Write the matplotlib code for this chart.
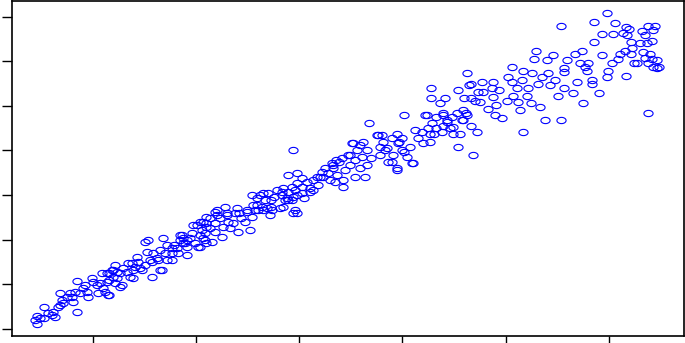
import matplotlib
matplotlib.use("Agg")
import matplotlib.pyplot as plt
import numpy as np
from matplotlib.path import Path

# values (tick units, no labels shown on the original)
x_vals = [
    -0.54, -0.56, -0.54, -0.51, -0.47, -0.47, -0.44, -0.40, -0.39, -0.37,
    -0.34, -0.32, -0.30, -0.29, -0.32, -0.25, -0.22, -0.19, -0.20, -0.15,
    -0.15, -0.17, -0.13, -0.10, -0.06, -0.05, -0.08, -0.01, 0.00, 0.04,
    0.05, 0.09, 0.07, 0.14, 0.15, 0.10, 0.16, 0.18, 0.21, 0.23, 0.21,
    0.16, 0.23, 0.19, 0.28, 0.26, 0.29, 0.33, 0.34, 0.36, 0.39,
    0.41, 0.44, 0.43, 0.46, 0.48, 0.50, 0.52, 0.53, 0.50, 0.55,
    0.57, 0.58, 0.62, 0.65, 0.65, 0.68, 0.70, 0.72, 0.77, 0.77,
    0.79, 0.82, 0.84, 0.86, 0.87, 0.91, 0.91, 0.94, 0.96, 0.97,
    0.99, 1.02, 1.04, 1.06, 1.07, 1.09, 1.10, 1.10,
    1.04, 1.07, 1.09, 1.10, 1.13, 1.13, 1.15, 1.18, 1.18, 1.20,
    1.23, 1.25, 1.26, 1.28, 1.30, 1.31, 1.33, 1.36, 1.38, 1.40,
    1.41, 1.44, 1.47, 1.49, 1.52, 1.54, 1.55, 1.59, 1.60, 1.62,
    1.64, 1.67, 1.69, 1.70, 1.72, 1.73, 1.76, 1.78, 1.81, 1.83,
    1.84, 1.86, 1.89, 1.89, 1.93, 1.94, 1.96, 1.98, 1.98,
    1.94, 1.93, 1.96, 1.98, 1.98, 2.03, 2.03, 2.03, 2.05, 2.08,
    2.10, 2.13, 2.17, 2.18, 2.22, 2.23, 2.25, 2.28, 2.30, 2.32,
    2.33, 2.35, 2.36, 2.37, 2.41, 2.42, 2.42, 2.44, 2.47, 2.49,
    2.51, 2.54, 2.54, 2.56, 2.59, 2.59, 2.61, 2.62, 2.64, 2.66,
    2.66, 2.68, 2.70, 2.76, 2.78, 2.78, 2.81, 2.85, 2.86,
    2.80, 2.83, 2.90, 2.91, 2.95, 2.95, 2.90, 2.97, 3.00, 3.02,
    3.04, 3.07, 3.10, 3.12, 3.02, 3.15, 3.19, 3.20, 3.24, 3.25,
    3.27, 3.28, 3.28, 3.29, 3.31, 3.33, 3.36, 3.38, 3.39, 3.41,
    3.43, 3.46, 3.48, 3.49, 3.53, 3.54, 3.54, 3.58, 3.59, 3.60,
    3.63, 3.63, 3.65, 3.67, 3.68, 3.70, 3.72, 3.73,
    3.67, 3.67, 3.75, 3.77, 3.78, 3.83, 3.87, 3.88, 3.88, 3.90,
    3.91, 3.94, 3.97, 4.01, 4.02, 4.06, 4.06, 4.07, 4.11, 4.12,
    4.14, 4.16, 4.17, 4.17, 4.21, 4.22, 4.25, 4.26, 4.28, 4.30,
    4.31, 4.33, 4.35, 4.38, 4.40, 4.41, 4.43, 4.46, 4.48, 4.51,
    4.54, 4.54, 4.57, 4.60,
    4.57, 4.57, 4.65, 4.67, 4.69, 4.72, 4.74, 4.75, 4.77, 4.79,
    4.80, 4.84, 4.84, 4.86, 4.86, 4.91, 4.94, 4.94, 4.98, 4.98,
    4.99, 5.03, 5.04, 5.06, 5.09, 5.11, 5.14, 5.16, 5.17, 5.17,
    5.18, 5.20, 5.22, 5.22, 5.23, 5.25, 5.27, 5.30, 5.32, 5.33,
    5.35, 5.35, 5.37, 5.38, 5.38, 5.40, 5.42, 5.42, 5.43, 5.43,
    5.45, 5.47, 5.47, 5.49, 5.38,
    # denser parts of the band
    0.84, 0.87, 0.91, 0.89, 1.01, 1.04, 1.10, 1.18, 1.20, 1.30,
    1.42, 1.49, 1.54, 1.59, 1.65, 1.73, 1.83, 1.88, 1.94, 0.67,
    0.38, 0.19, 0.14, 0.16, 0.26, 0.39, 0.12, 0.57, 0.63, 0.72,
    0.77, 0.81,
    2.75, 2.96, 3.00, 3.09, 2.95, 2.52, 2.49, 2.39, 2.33, 2.20,
    2.13, 2.10, 1.89, 1.84, 1.74, 1.65, 1.57, 3.27, 3.33, 3.39,
    3.43, 3.49, 3.56, 3.59, 3.62, 3.22, 3.39,
]
y_vals = [
    0.29, 0.20, 0.11, 0.25, 0.25, 0.49, 0.36, 0.31, 0.38, 0.27,
    0.49, 0.54, 0.65, 0.58, 0.81, 0.72, 0.81, 0.60, 0.72, 0.38,
    1.07, 0.83, 0.81, 0.92, 0.83, 0.72, 0.98, 1.14, 1.05, 0.98,
    0.81, 1.25, 1.03, 1.05, 0.76, 0.92, 1.25, 1.32, 1.43, 1.14, 1.03,
    0.76, 1.28, 1.16, 0.98, 1.25, 1.36, 1.28, 1.48, 1.16, 1.32,
    1.39, 1.50, 1.61, 1.36, 1.32, 1.43, 1.72, 1.99, 1.95, 1.54,
    1.16, 1.70, 1.59, 1.77, 1.32, 2.04, 1.70, 1.88, 1.54, 1.81,
    1.88, 1.70, 1.99, 2.10, 1.92, 1.83, 1.66, 2.04, 2.15, 2.33,
    1.92, 1.83, 2.10, 2.21, 2.39, 1.99, 2.28, 2.51,
    1.83, 2.04, 2.15, 1.92, 2.26, 2.48, 1.95, 2.17, 2.37, 2.66,
    2.48, 2.06, 2.28, 2.73, 2.55, 2.39, 2.26, 2.37, 2.59, 2.71,
    2.17, 2.48, 2.39, 2.66, 2.21, 2.51, 2.77, 2.93, 2.66, 3.00,
    2.73, 2.89, 2.71, 3.04, 2.55, 2.89, 2.95, 3.11, 2.71, 3.00,
    3.15, 2.89, 3.44, 3.06, 3.18, 2.95, 2.66, 3.49, 3.27,
    4.00, 2.89, 3.11, 3.00, 2.59, 3.18, 3.38, 3.04, 2.93, 3.29,
    3.06, 3.11, 3.40, 3.22, 3.51, 3.40, 3.60, 3.49, 3.33, 3.71,
    3.60, 3.29, 3.78, 3.44, 3.83, 3.33, 3.18, 3.56, 3.89, 3.67,
    4.16, 3.40, 3.78, 4.00, 4.12, 3.60, 3.85, 4.18, 3.40, 3.67,
    4.00, 4.61, 3.83, 4.34, 4.07, 3.89, 4.18, 4.05, 3.74,
    4.34, 4.00, 4.27, 3.89, 4.38, 3.60, 3.74, 4.18, 4.29, 3.96,
    3.85, 4.07, 3.71, 4.45, 4.79, 4.29, 4.41, 4.16, 4.79, 4.50,
    4.18, 5.41, 5.17, 4.61, 4.38, 4.74, 5.06, 4.41, 4.83, 5.17,
    4.63, 4.50, 4.74, 4.38, 4.83, 4.07, 5.35, 4.68, 4.90, 5.17,
    4.79, 5.73, 5.46, 4.56, 3.89, 5.12, 4.41, 5.30,
    5.50, 5.17, 5.08, 5.53, 5.30, 4.94, 5.39, 5.19, 5.53, 4.79,
    5.01, 5.35, 4.72, 5.12, 5.64, 5.86, 5.53, 5.23, 5.39, 5.08,
    4.90, 5.57, 5.79, 4.41, 5.23, 5.39, 5.06, 5.73, 6.06, 6.24,
    5.50, 4.97, 5.64, 4.68, 6.02, 5.73, 5.46, 6.13, 5.57, 5.23,
    4.68, 6.80, 5.39, 6.02,
    5.84, 5.75, 5.28, 6.17, 5.53, 5.95, 6.24, 5.06, 5.86, 5.79,
    5.97, 5.57, 5.50, 6.42, 6.89, 5.28, 6.13, 6.62, 5.64, 7.07,
    5.79, 5.97, 6.62, 6.85, 6.06, 6.17, 6.64, 6.24, 5.68, 6.76,
    6.58, 6.73, 6.17, 6.42, 6.29, 5.97, 5.95, 6.40, 6.67, 6.20,
    6.08, 6.58, 6.40, 6.80, 5.95, 6.17, 6.06, 6.46, 6.69, 5.86,
    6.80, 6.02, 5.84, 5.86, 4.85,
    # denser parts of the band
    2.10, 2.04, 1.99, 1.92, 2.33, 2.39, 2.37, 2.62, 2.55, 2.59,
    2.59, 2.62, 3.00, 2.77, 3.04, 2.73, 3.06, 2.93, 2.59, 1.32,
    1.48, 1.32, 1.25, 1.10, 0.94, 1.14, 0.83, 1.50, 1.54, 1.54,
    1.70, 1.81,
    4.34, 4.16, 4.00, 3.71, 3.56, 4.16, 3.89, 3.74, 3.67, 3.40,
    3.33, 3.15, 2.89, 2.73, 2.66, 2.66, 2.66, 4.38, 4.50, 4.56,
    4.68, 4.52, 4.38, 4.68, 4.83, 4.79, 4.79,
]
x_ticks = [0, 1, 2, 3, 4, 5]
y_ticks = [0, 1, 2, 3, 4, 5, 6, 7]

# open ellipse marker, wider than tall
t = np.linspace(0, 2 * np.pi, 40)
ellipse = Path(np.column_stack([np.cos(t), 0.68 * np.sin(t)]), closed=True)

fig = plt.figure(figsize=(6.85, 3.43), dpi=100)
ax = fig.add_axes([0.0175, 0.0204, 0.981, 0.978])

ax.plot(x_vals, y_vals, linestyle="none", marker=ellipse, markersize=6.6,
        markerfacecolor="none", markeredgecolor="#0000ff", markeredgewidth=0.8)

ax.set_xlim(-0.785, 5.73)
ax.set_ylim(-0.157, 7.36)
ax.set_xticks(x_ticks)
ax.set_yticks(y_ticks)
ax.set_xticklabels([])
ax.set_yticklabels([])
ax.tick_params(direction="out", length=7, width=1, color="black")
for s in ax.spines.values():
    s.set_linewidth(1.2)
    s.set_color("black")

fig.savefig("out.png", dpi=100)
